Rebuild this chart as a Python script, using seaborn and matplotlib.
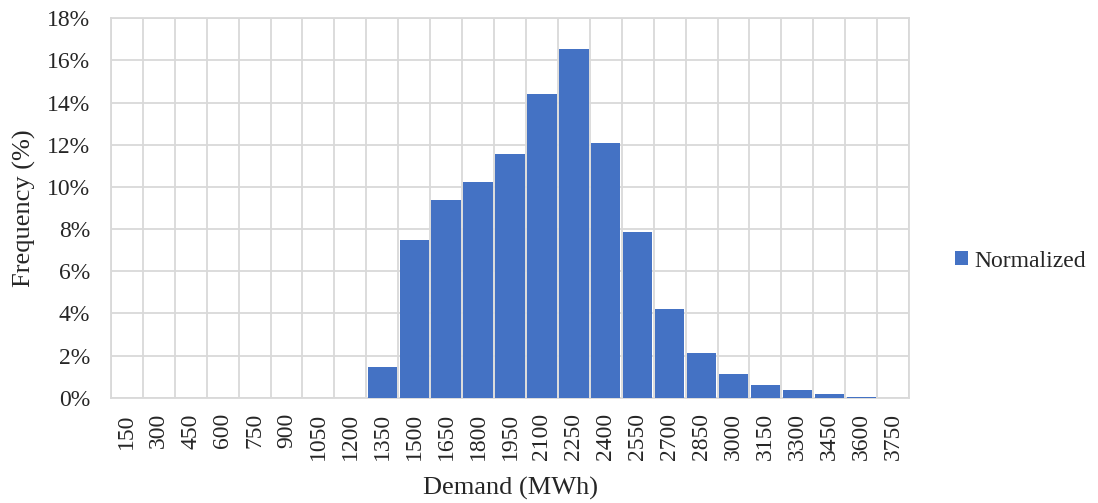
import matplotlib
matplotlib.use("Agg")
import matplotlib.pyplot as plt
import seaborn as sns
import pandas as pd
import numpy as np
from matplotlib.ticker import FuncFormatter, MultipleLocator

# Demand bins (MWh) and normalized frequency (%)
demand_bins = [150, 300, 450, 600, 750, 900, 1050, 1200, 1350, 1500, 1650, 1800,
               1950, 2100, 2250, 2400, 2550, 2700, 2850, 3000, 3150, 3300, 3450,
               3600, 3750]
frequency_pct = [0, 0, 0, 0, 0, 0, 0, 0, 1.48, 7.5, 9.37, 10.25,
                 11.58, 14.39, 16.55, 12.07, 7.85, 4.23, 2.12, 1.15, 0.6, 0.39, 0.18,
                 0.05, 0]
series_name = "Normalized"

df = pd.DataFrame({"Demand": [str(d) for d in demand_bins], "Frequency": frequency_pct})

sns.set_theme(style="white")
plt.rcParams["font.family"] = ["Liberation Serif", "DejaVu Serif"]

fig, ax = plt.subplots(figsize=(10.98, 5.03), dpi=100)
fig.subplots_adjust(left=0.101, right=0.828, top=0.964, bottom=0.209)

sns.barplot(data=df, x="Demand", y="Frequency", color="#4472C4", width=0.92,
            saturation=1, linewidth=0, label=series_name, ax=ax, zorder=3)

grid_col = "#d9d9d9"
ax.set_ylim(0, 18)
ax.set_xlim(-0.5, len(demand_bins) - 0.5)
ax.yaxis.set_major_locator(MultipleLocator(2))
ax.yaxis.set_major_formatter(FuncFormatter(lambda v, p: f"{v:.0f}%"))
ax.set_xticks(np.arange(-0.5, len(demand_bins)), minor=True)
ax.grid(axis="y", which="major", color=grid_col, linewidth=1.3, zorder=0)
ax.grid(axis="x", which="minor", color=grid_col, linewidth=1.3, zorder=0)
ax.tick_params(axis="x", which="both", length=0, pad=11)
ax.tick_params(axis="y", length=0, pad=15)
for s in ax.spines.values():
    s.set_color(grid_col)
    s.set_linewidth(1.3)

ax.set_xticks(range(len(demand_bins)))
ax.set_xticklabels(df["Demand"], rotation=90, fontsize=17)
for lab in ax.get_yticklabels():
    lab.set_fontsize(17)
ax.set_xlabel("Demand (MWh)", fontsize=19, labelpad=12)
ax.set_ylabel("Frequency (%)", fontsize=19, labelpad=8)

ax.legend(loc="center left", bbox_to_anchor=(1.046, 0.36), frameon=False,
          fontsize=17, handlelength=0.55, handleheight=0.55, handletextpad=0.25,
          borderaxespad=0)

fig.savefig("out.png", dpi=100)
